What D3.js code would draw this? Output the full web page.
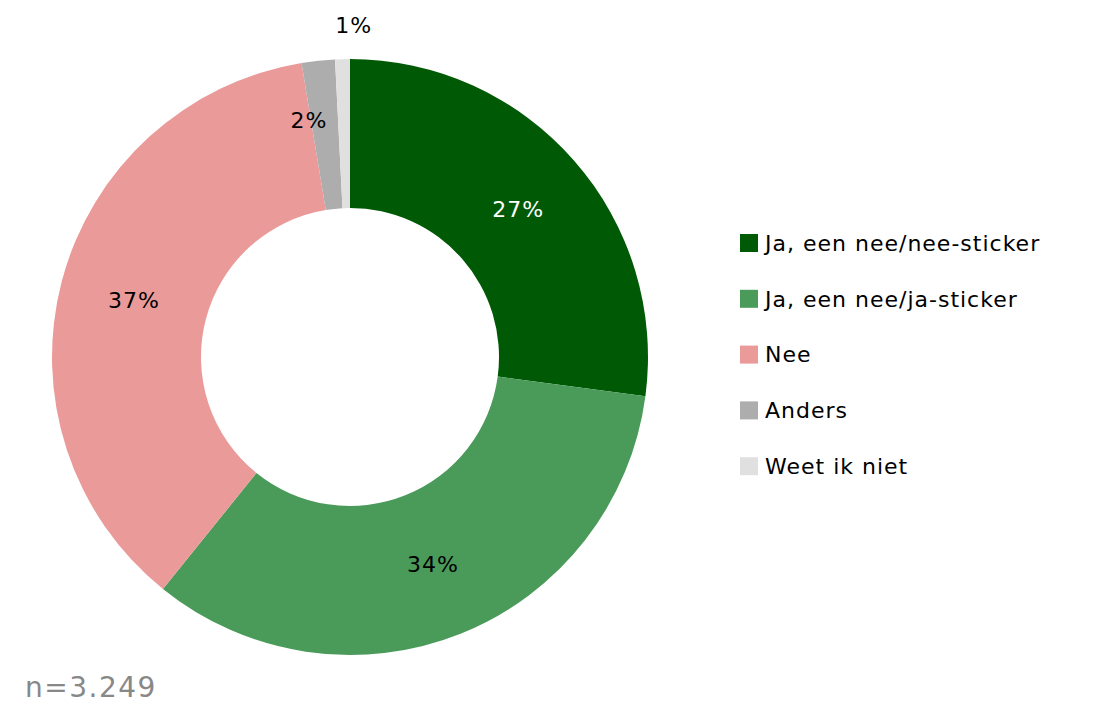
<!DOCTYPE html>
<html><head><meta charset="utf-8">
<script src="https://cdn.jsdelivr.net/npm/d3@7"></script>
<style>body{margin:0;background:#fff}svg{display:block}text{font-family:"DejaVu Sans",sans-serif}</style>
</head><body>
<svg id="c" width="1094" height="704"></svg>
<script>
const categories = ["Ja, een nee/nee-sticker","Ja, een nee/ja-sticker","Nee","Anders","Weet ik niet"];
const values = [27.1, 33.7, 36.6, 1.8, 0.8];
const labels = ["27%","34%","37%","2%","1%"];
const colors = ["#005a05","#4a9a5a","#eb9a9a","#adadad","#e0e0e0"];
const labelColors = ["#fff","#000","#000","#000","#000"];
const outsideLabel = [false,false,false,false,true];

const svg = d3.select("#c");
const cx = 350, cy = 357, R = 298, r = 149;
const g = svg.append("g").attr("transform",`translate(${cx},${cy})`);
const data = categories.map((c,i)=>({c, v:values[i], i}));
const pie = d3.pie().value(d=>d.v).sort(null);
const arc = d3.arc().innerRadius(r).outerRadius(R);
const arcs = pie(data);
g.selectAll("path").data(arcs).join("path")
  .attr("d",arc).attr("fill",d=>colors[d.data.i]);
const outArc = d3.arc().innerRadius(R+34).outerRadius(R+34);
const smallArc = d3.arc().innerRadius(R-58).outerRadius(R-58);
function labelPos(d){
  if (outsideLabel[d.data.i]) { const p = outArc.centroid(d); return [p[0]+12, p[1]]; }
  if (d.data.v < 3) {
    const a = (d.startAngle+d.endAngle)/2 - 0.065;
    return smallArc.centroid({startAngle:a,endAngle:a});
  }
  return arc.centroid(d);
}
g.selectAll("text.lbl").data(arcs).join("text").attr("class","lbl")
  .attr("transform",d=>`translate(${labelPos(d)})`)
  .attr("text-anchor","middle").attr("dy","0.35em")
  .attr("font-size",22).attr("letter-spacing",1).attr("fill",d=>labelColors[d.data.i])
  .text(d=>labels[d.data.i]);

const leg = svg.append("g").attr("transform","translate(740,243)");
const row = leg.selectAll("g").data(data).join("g").attr("transform",(d,i)=>`translate(0,${i*55.8})`);
row.append("rect").attr("x",0).attr("y",-9).attr("width",18).attr("height",18).attr("fill",d=>colors[d.i]);
row.append("text").attr("x",25).attr("dy","0.35em").attr("font-size",22).attr("letter-spacing",1).attr("fill","#000").text(d=>d.c);

svg.append("text").attr("x",25).attr("y",697).attr("font-size",28).attr("letter-spacing",1.5).attr("fill","#888").text("n=3.249");
</script>
</body></html>
